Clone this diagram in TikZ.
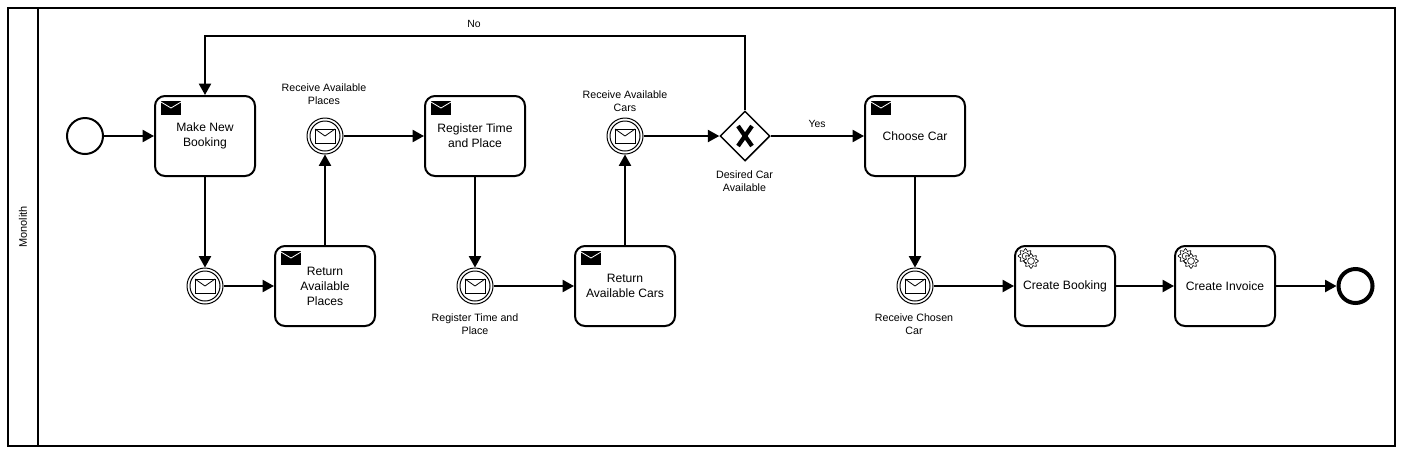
\documentclass[tikz,border=0pt]{standalone}
\usepackage{fontspec}
\setmainfont{Liberation Sans}
\usetikzlibrary{arrows.meta,shapes.geometric}
\tikzset{
  x=0.75pt,y=-0.75pt,
  ln/.style={line width=1.5pt,draw=black},
  taskbox/.style={ln,rounded corners=7.5pt,minimum width=75pt,minimum height=60pt,align=center,font=\fontsize{9.1}{11.2}\selectfont,inner sep=0pt,fill=white},
  startev/.style={ln,circle,minimum size=27pt,inner sep=0pt,fill=white},
  endev/.style={circle,draw=black,line width=3pt,minimum size=25.5pt,inner sep=0pt,fill=white},
  interev/.style={circle,draw=black,line width=0.75pt,minimum size=27pt,inner sep=0pt,fill=white},
  gate/.style={diamond,draw=black,line width=1.1pt,minimum width=37.5pt,minimum height=37.5pt,inner sep=0pt,fill=white,aspect=1},
  lab/.style={align=center,font=\fontsize{8}{9.8}\selectfont,inner sep=0pt},
  edgelab/.style={font=\fontsize{7.8}{9.8}\selectfont,inner sep=0pt},
  flow/.style={line width=1.5pt,draw=black,-{Triangle[length=8.5pt,width=9pt]},shorten >=0pt},
  plainenv/.style={draw=black,line width=0.6pt,fill=white},
}
\newcommand{\blackenv}[2]{%
  \fill[black] (#1,#2) rectangle ++(20,14);
  \draw[white,line width=0.6pt] (#1,#2+1) -- ++(10,6) -- ++(10,-6);
}
\newcommand{\whiteenv}[2]{%
  \draw[plainenv] (#1-10,#2-7) rectangle ++(20,14);
  \draw[black,line width=0.6pt] (#1-10,#2-7) -- ++(10,7) -- ++(10,-7);
}
\newcommand{\onegear}[3]{%
  \draw[black,line width=0.45pt,fill=white]
    plot[smooth cycle,tension=0.25,samples=33,domain=0:360,variable=\t]
      ({#1+(#3+1.3*cos(8*\t))*cos(\t)},{#2+(#3+1.3*cos(8*\t))*sin(\t)});
  \draw[black,line width=0.45pt,fill=white] (#1,#2) circle[radius=#3*0.55];
}
\newcommand{\gears}[2]{\onegear{#1-3}{#2-2.5}{6.2}\onegear{#1+2.5}{#2+2.5}{6.2}}
\begin{document}
\begin{tikzpicture}
\useasboundingbox (0,0) rectangle (1402,451);
\fill[white] (0,0) rectangle (1402,451);
\draw[ln] (8,8) rectangle (1395,446);
\draw[ln] (38,8) -- (38,446);
\node[rotate=90,font=\fontsize{8.2}{10}\selectfont,inner sep=0pt] (pool) at (23,227) {Monolith};

\node[startev] (start) at (85,136) {};
\node[taskbox] (t1) at (205,136) {Make New\\Booking};
\node[interev] (e1) at (205,286) {};
\node[taskbox] (t2) at (325,286) {Return\\Available\\Places};
\node[interev] (e2) at (325,136) {};
\node[taskbox] (t3) at (475,136) {Register Time\\and Place};
\node[interev] (e3) at (475,286) {};
\node[taskbox] (t4) at (625,286) {Return\\Available Cars};
\node[interev] (e4) at (625,136) {};
\node[gate] (gw) at (745,136) {};
\node[taskbox] (t5) at (915,136) {Choose Car};
\node[interev] (e5) at (915,286) {};
\node[taskbox] (t6) at (1065,286) {Create Booking};
\node[taskbox] (t7) at (1225,286) {Create Invoice};
\node[endev] (end) at (1355.5,286) {};

% inner rings of the intermediate events
\foreach \n in {e1,e2,e3,e4,e5}{\draw[black,line width=0.75pt] (\n.center) circle[radius=15];}

% markers
\blackenv{161}{101}\blackenv{281}{251}\blackenv{431}{101}\blackenv{581}{251}\blackenv{871}{101}
\whiteenv{205}{286}\whiteenv{325}{136}\whiteenv{475}{286}\whiteenv{625}{136}\whiteenv{915}{286}
\gears{1028.5}{258.5}\gears{1188.5}{258.5}
\draw[black,line width=3.2pt] (738,126) -- (752,146) (752,126) -- (738,146);

% labels
\node[lab] (l2) at (324,94) {Receive Available\\Places};
\node[lab] (l4) at (625,101) {Receive Available\\Cars};
\node[lab] (l3) at (475,324) {Register Time and\\Place};
\node[lab] (l5) at (914,324) {Receive Chosen\\Car};
\node[lab] (lg) at (744.5,181) {Desired Car\\Available};
\node[edgelab] (no) at (474,24) {No};
\node[edgelab] (yes) at (817,124) {Yes};

% connectors
\coordinate (c1) at (745,36);
\coordinate (c2) at (205,36);
\draw[flow] (start) -- (t1);
\draw[flow] (t1) -- (e1);
\draw[flow] (e1) -- (t2);
\draw[flow] (t2) -- (e2);
\draw[flow] (e2) -- (t3);
\draw[flow] (t3) -- (e3);
\draw[flow] (e3) -- (t4);
\draw[flow] (t4) -- (e4);
\draw[flow] (e4) -- (gw);
\draw[flow] (gw) -- (t5);
\draw[flow] (t5) -- (e5);
\draw[flow] (e5) -- (t6);
\draw[flow] (t6) -- (t7);
\draw[flow] (t7) -- (end);
\draw[flow] (gw.north) -- (c1) -- (c2) -- (t1.north);
\end{tikzpicture}
\end{document}
